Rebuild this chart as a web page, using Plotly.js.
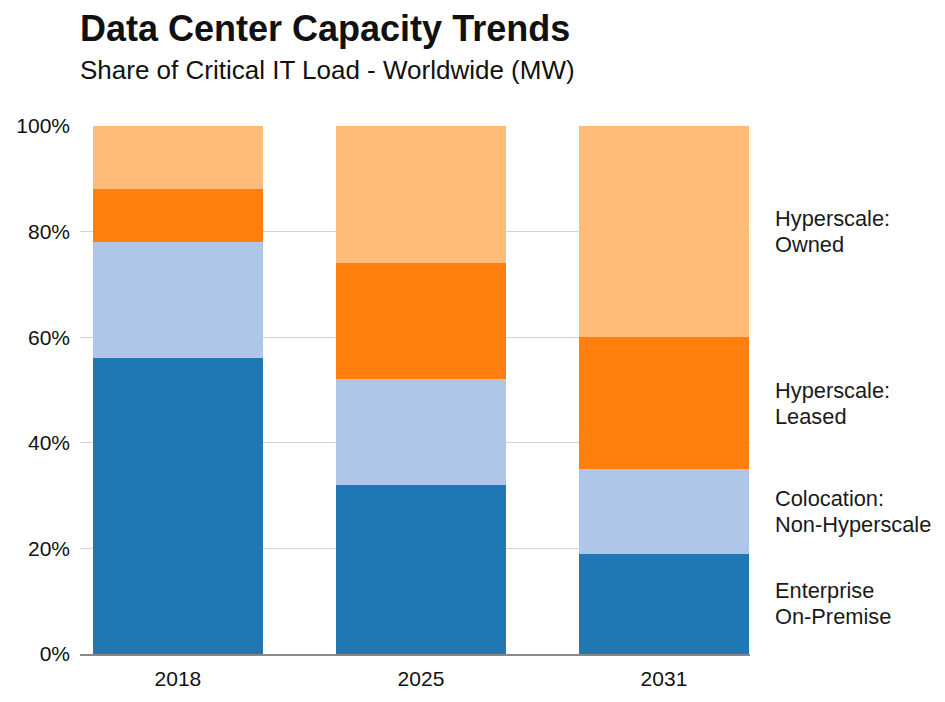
<!DOCTYPE html>
<html>
<head>
<meta charset="utf-8">
<script src="https://cdn.plot.ly/plotly-3.0.1.min.js"></script>
<style>html,body{margin:0;padding:0;background:#fff;}#chart{width:945px;height:702px;}</style>
</head>
<body>
<div id="chart"></div>
<script>
const years = ["2018", "2025", "2031"];
const seriesNames = ["Enterprise\nOn-Premise", "Colocation:\nNon-Hyperscale", "Hyperscale:\nLeased", "Hyperscale:\nOwned"];
const enterprise = [56, 32, 19];
const colocation = [22, 20, 16];
const leased = [10, 22, 25];
const owned = [12, 26, 40];
const colors = ["#1f77b4", "#aec7e8", "#ff7f0e", "#ffbb78"];
const yTicks = [0, 20, 40, 60, 80, 100];

const FONT = "Liberation Sans, Arial, sans-serif";
const allSeries = [enterprise, colocation, leased, owned];
const traces = allSeries.map((vals, i) => ({
  type: "bar",
  x: years,
  y: vals,
  name: seriesNames[i].replace("\n", " "),
  marker: {color: colors[i], line: {width: 0}},
  width: 0.7,
  hoverinfo: "skip"
}));

// labels at the middle of each segment of the last bar, one annotation per line
const last = years.length - 1;
let cum = 0;
const labelAnns = [];
allSeries.forEach((vals, i) => {
  const mid = cum + vals[last] / 2;
  cum += vals[last];
  const lines = seriesNames[i].split("\n");
  lines.forEach((ln, j) => {
    labelAnns.push({
      xref: "paper", yref: "y", x: 1 + 23 / 670, y: mid,
      xanchor: "left", yanchor: "middle", align: "left",
      yshift: (lines.length - 1) * 13 - j * 26,
      text: ln,
      showarrow: false,
      font: {family: FONT, size: 21.8, color: "#1a1a1a"}
    });
  });
});

const layout = {
  width: 945, height: 702,
  margin: {l: 80, r: 195, t: 126, b: 48},
  barmode: "stack",
  showlegend: false,
  paper_bgcolor: "#ffffff",
  plot_bgcolor: "#ffffff",
  font: {family: FONT, size: 21, color: "#111"},
  xaxis: {
    type: "category",
    range: [-0.403, 2.354],
    showgrid: false,
    showline: true, linecolor: "#888888", linewidth: 2,
    ticks: "", ticklabelstandoff: 5,
    tickfont: {size: 21, color: "#111"},
    fixedrange: true
  },
  yaxis: {
    range: [0, 100],
    tickvals: yTicks,
    ticktext: yTicks.map(v => v + "%"),
    showgrid: true, gridcolor: "#d4d4d4", gridwidth: 1,
    zeroline: false, showline: false,
    ticks: "", ticklabelstandoff: 9,
    tickfont: {size: 21, color: "#111"},
    fixedrange: true
  },
  annotations: [
    {
      xref: "paper", yref: "paper", x: 0, y: 1 + (126 - 28) / 528, xshift: -2,
      xanchor: "left", yanchor: "middle", showarrow: false,
      text: "<b>Data Center Capacity Trends</b>",
      font: {family: FONT, size: 36, color: "#111"}
    },
    {
      xref: "paper", yref: "paper", x: 0, y: 1 + (126 - 70) / 528, xshift: -2,
      xanchor: "left", yanchor: "middle", showarrow: false,
      text: "Share of Critical IT Load - Worldwide (MW)",
      font: {family: FONT, size: 26, color: "#111"}
    }
  ].concat(labelAnns)
};

Plotly.newPlot("chart", traces, layout, {displayModeBar: false, staticPlot: true});
</script>
</body>
</html>
